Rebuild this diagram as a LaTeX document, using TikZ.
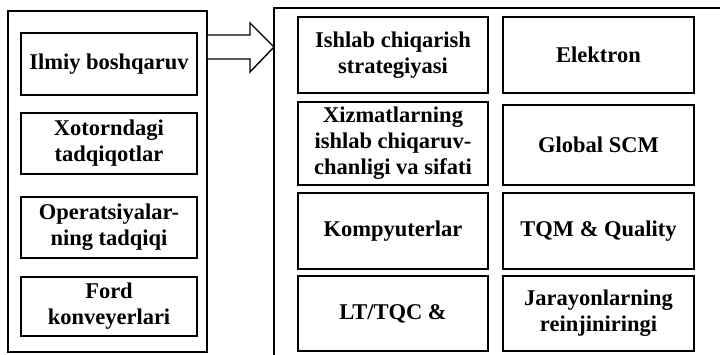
\documentclass[tikz,border=0pt]{standalone}
\usepackage{fontspec}
\setmainfont{Liberation Serif}
\begin{document}
\begin{tikzpicture}[x=1pt,y=-1pt,
  frame/.style={draw,line width=1.6pt},
  box/.style={draw,line width=1.4pt,align=center,inner sep=0pt,
    font=\fontsize{22.5}{26}\selectfont\bfseries},
]
\useasboundingbox (0,0) rectangle (720,354);
% left frame
\node[frame,minimum width=199pt,minimum height=341pt,inner sep=0pt] (L) at (107.5,181.5) {};
\node[box,minimum width=176pt,minimum height=62pt] (l1) at (109,64) {Ilmiy boshqaruv};
\node[box,minimum width=176pt,minimum height=61pt] (l2) at (109,143.5) {Xotorndagi\\tadqiqotlar};
\node[box,minimum width=176pt,minimum height=61pt] (l3) at (109,227.5) {Operatsiyalar-\\ning tadqiqi};
\node[box,minimum width=176pt,minimum height=59pt] (l4) at (109,306.5) {Ford\\konveyerlari};
% right frame (open on the right and bottom)
\coordinate (Rtl) at (274,8);
\coordinate (Rtr) at (721,8);
\coordinate (Rbl) at (274,355);
\draw[line width=1.6pt] (Rtr) -- (Rtl) -- (Rbl);
% arrow
\draw[line width=1.4pt,fill=white,line join=miter]
  (L.east |- 0,35) -- (250,35) -- (250,23) -- (Rtl |- 0,47) -- (250,72) -- (250,59) -- (L.east |- 0,59);
% right boxes
\node[box,minimum width=190pt,minimum height=76pt] (r11) at (393,55) {Ishlab chiqarish\\strategiyasi};
\node[box,minimum width=191pt,minimum height=76pt] (r12) at (598.5,55) {Elektron};
\node[box,minimum width=190pt,minimum height=83pt] (r21) at (393,143.5) {Xizmatlarning\\ishlab chiqaruv-\\chanligi va sifati};
\node[box,minimum width=191pt,minimum height=80pt] (r22) at (598.5,145) {Global SCM};
\node[box,minimum width=190pt,minimum height=76pt] (r31) at (393,231) {Kompyuterlar};
\node[box,minimum width=191pt,minimum height=76pt] (r32) at (598.5,231) {TQM \& Quality};
\node[box,minimum width=190pt,minimum height=75pt] (r41) at (393,313.5) {LT/TQC \&};
\node[box,minimum width=191pt,minimum height=75pt] (r42) at (598.5,313.5) {Jarayonlarning\\reinjiniringi};
\end{tikzpicture}
\end{document}
